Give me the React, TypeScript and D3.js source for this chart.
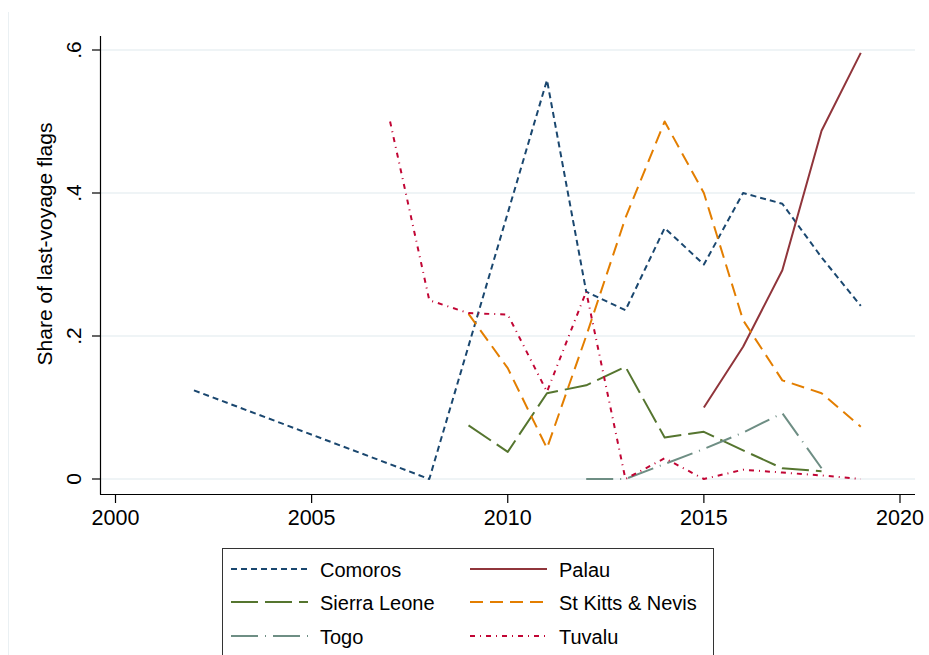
import React from "react";
import * as d3 from "d3";

const W = 929;
const H = 655;

const xTicks = [2000, 2005, 2010, 2015, 2020];
const yTicks = [0, 0.2, 0.4, 0.6];
const yTickLabels = ["0", ".2", ".4", ".6"];

const comorosYears = [2002, 2008, 2011, 2012, 2013, 2014, 2015, 2016, 2017, 2018, 2019];
const comorosVals = [0.124, 0, 0.558, 0.262, 0.236, 0.351, 0.3, 0.4, 0.385, 0.31, 0.242];

const palauYears = [2015, 2016, 2017, 2018, 2019];
const palauVals = [0.1, 0.185, 0.292, 0.487, 0.596];

const sierraYears = [2009, 2010, 2011, 2012, 2013, 2014, 2015, 2016, 2017, 2018];
const sierraVals = [0.075, 0.038, 0.12, 0.131, 0.157, 0.058, 0.066, 0.04, 0.015, 0.011];

const kittsYears = [2009, 2010, 2011, 2012, 2013, 2014, 2015, 2016, 2017, 2018, 2019];
const kittsVals = [0.231, 0.155, 0.043, 0.2, 0.365, 0.5, 0.4, 0.222, 0.138, 0.12, 0.073];

const togoYears = [2012, 2013, 2014, 2015, 2016, 2017, 2018];
const togoVals = [0, 0, 0.021, 0.042, 0.065, 0.092, 0.015];

const tuvaluYears = [2007, 2008, 2009, 2010, 2011, 2012, 2013, 2014, 2015, 2016, 2017, 2018, 2019];
const tuvaluVals = [0.5, 0.25, 0.232, 0.23, 0.122, 0.262, 0, 0.029, 0, 0.013, 0.009, 0.005, 0];

const seriesNames = ["Comoros", "Palau", "Sierra Leone", "St Kitts & Nevis", "Togo", "Tuvalu"];
const seriesYears = [comorosYears, palauYears, sierraYears, kittsYears, togoYears, tuvaluYears];
const seriesVals = [comorosVals, palauVals, sierraVals, kittsVals, togoVals, tuvaluVals];
const seriesColors = ["#1a476f", "#90353b", "#55752f", "#e37e00", "#6e8e84", "#c10534"];
const seriesDash = ["6 4", "", "27 7", "13 7", "27 7 1 7", "5 5 1 5"];

const FONT = "'Liberation Sans', Arial, Helvetica, sans-serif";

export default function App() {
  const x = d3.scaleLinear().domain([2000, 2020]).range([115.5, 900]);
  const y = d3.scaleLinear().domain([0, 0.6]).range([479, 50]);
  const line = d3
    .line<[number, number]>()
    .x((d) => x(d[0]))
    .y((d) => y(d[1]));

  const legendCols = [231, 470];
  const legendTextCols = [320, 559];
  const legendRows = [569, 602, 636];

  return (
    <svg
      width={W}
      height={H}
      style={{ position: "fixed", left: 0, top: 0, background: "#fff" }}
      fontFamily={FONT}
    >
      <rect x={0} y={0} width={W} height={H} fill="#fff" />
      <line x1={8.5} y1={12} x2={8.5} y2={H} stroke="#eaf0f3" strokeWidth={1} />
      {/* gridlines */}
      {yTicks.map((t) => (
        <line key={"g" + t} x1={100} x2={915} y1={y(t)} y2={y(t)} stroke="#eaf0f3" strokeWidth={1.5} />
      ))}
      {/* axes */}
      <line x1={100.5} x2={100.5} y1={36} y2={494.5} stroke="#000" strokeWidth={1.2} />
      <line x1={100} x2={915} y1={494.5} y2={494.5} stroke="#000" strokeWidth={1.2} />
      {yTicks.map((t, i) => (
        <g key={"yt" + t}>
          <line x1={92} x2={100} y1={y(t)} y2={y(t)} stroke="#000" strokeWidth={1.2} />
          <text
            transform={`translate(81,${y(t)}) rotate(-90)`}
            textAnchor="middle"
            fontSize={21}
            fill="#000"
          >
            {yTickLabels[i]}
          </text>
        </g>
      ))}
      {xTicks.map((t) => (
        <g key={"xt" + t}>
          <line x1={x(t)} x2={x(t)} y1={494} y2={503} stroke="#000" strokeWidth={1.2} />
          <text x={x(t)} y={525} textAnchor="middle" fontSize={21.5} fill="#000">
            {t}
          </text>
        </g>
      ))}
      <text transform="translate(52,244) rotate(-90)" textAnchor="middle" fontSize={21} fill="#000">
        Share of last-voyage flags
      </text>
      {/* series */}
      {seriesNames.map((name, i) => {
        const pts = seriesYears[i].map((yr, j) => [yr, seriesVals[i][j]] as [number, number]);
        return (
          <path
            key={name}
            d={line(pts) || ""}
            fill="none"
            stroke={seriesColors[i]}
            strokeWidth={2}
            strokeDasharray={seriesDash[i] || undefined}
            strokeLinejoin="round"
          />
        );
      })}
      {/* legend */}
      <rect x={222.5} y={548.5} width={491} height={120} fill="#fff" stroke="#333" strokeWidth={1} />
      {seriesNames.map((name, i) => {
        const col = i % 2;
        const row = Math.floor(i / 2);
        const ly = legendRows[row];
        return (
          <g key={"lg" + name}>
            <line
              x1={legendCols[col]}
              x2={legendCols[col] + 77}
              y1={ly}
              y2={ly}
              stroke={seriesColors[i]}
              strokeWidth={2}
              strokeDasharray={seriesDash[i] || undefined}
            />
            <text x={legendTextCols[col]} y={ly + 8} fontSize={20} fill="#000">
              {name}
            </text>
          </g>
        );
      })}
    </svg>
  );
}
